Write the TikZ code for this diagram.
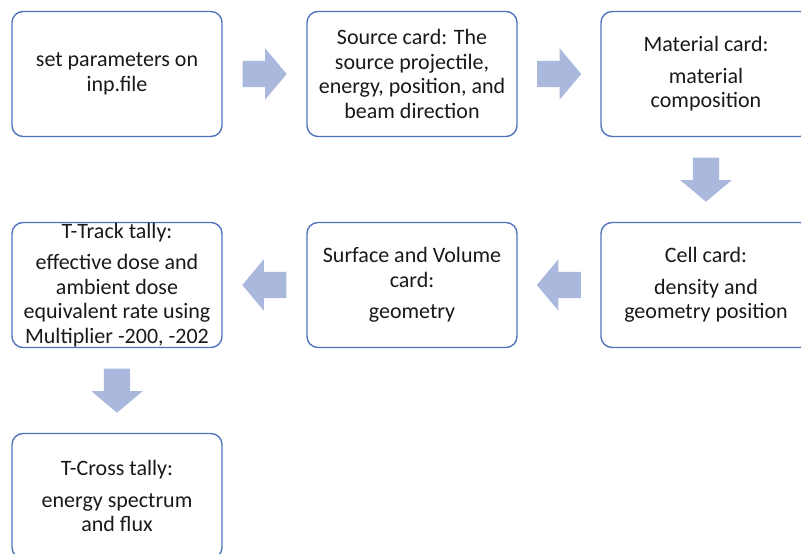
\documentclass[tikz,border=0pt]{standalone}
\usepackage{fontspec}
\setmainfont{Carlito}
\usetikzlibrary{shapes.arrows,calc}

\definecolor{cardblue}{RGB}{80,115,190}
\definecolor{arrowblue}{RGB}{170,184,221}
\definecolor{cardtext}{RGB}{25,25,25}

\tikzset{
  card/.style={draw=cardblue, line width=1.4pt, rounded corners=11pt,
    minimum width=210pt, minimum height=125pt, align=center,
    text=cardtext, inner sep=0pt, font=\fontsize{22}{24.5}\selectfont},
  blockarrow/.style={single arrow, fill=arrowblue, draw=none, anchor=tail,
    inner sep=13pt, minimum height=44pt, single arrow head extend=12.5pt,
    single arrow tip angle=100}
}

\begin{document}
\begin{tikzpicture}[x=1pt,y=-1pt]

  % page
  \useasboundingbox (0,0) rectangle (801,554);
  \clip (0,0) rectangle (801,554);

  % cards, first row
  \node[card] (setpar) at (117,74) {set parameters on\\inp.file};
  \node[card] (source) at (412,74) {Source card: The\\source projectile,\\energy, position, and\\beam direction};
  \node[card] (material) at (706,74) {Material card:\\[7pt]material\\composition};

  % cards, second row
  \node[card] (cell) at (706,285) {Cell card:\\[7pt]density and\\geometry position};
  \node[card] (surface) at (412,285) {Surface and Volume\\card:\\[7pt]geometry};
  \node[card] (ttrack) at (117,285) {T-Track tally:\\[7pt]effective dose and\\ambient dose\\equivalent rate using\\Multiplier -200, -202};

  % last card
  \node[card] (tcross) at (117,496) {T-Cross tally:\\[7pt]energy spectrum\\and flux};

  % block arrows
  \node[blockarrow] (a1) at ($(setpar.east)!0.5!(source.west)+(-22,0)$) {};
  \node[blockarrow] (a2) at ($(source.east)!0.5!(material.west)+(-22,0)$) {};
  \node[blockarrow, shape border rotate=270] (a3) at ($(material.south)!0.5!(cell.north)+(0,-22)$) {};
  \node[blockarrow, shape border rotate=180] (a4) at ($(cell.west)!0.5!(surface.east)+(22,0)$) {};
  \node[blockarrow, shape border rotate=180] (a5) at ($(surface.west)!0.5!(ttrack.east)+(22,0)$) {};
  \node[blockarrow, shape border rotate=270] (a6) at ($(ttrack.south)!0.5!(tcross.north)+(0,-22)$) {};

\end{tikzpicture}
\end{document}
